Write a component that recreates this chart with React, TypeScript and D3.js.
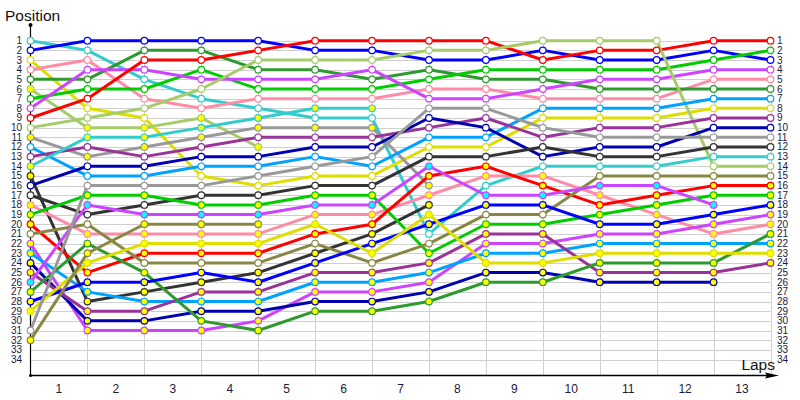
import React from "react";
import { select, scaleLinear, line, range } from "d3";

// lap numbers on the x axis (0 = start grid)
const laps = range(0, 14);
const lapLabels = ["1", "2", "3", "4", "5", "6", "7", "8", "9", "10", "11", "12", "13"];
const positionLabels = range(1, 35);

// colour key per driver (by starting position)
const driverTeams = [
  "cyan", "blue", "yellow", "pink", "dkgreen", "ltgreen", "green", "magenta", "red", "ltgreen",
  "gray", "skyblue", "purple", "cyan", "dkgray", "dkblue", "dkgray", "pink", "green", "red",
  "olive", "magenta", "skyblue", "dkblue", "purple", "magenta", "dkgreen", "blue", "yellow", "gray",
  "olive",
];
// marker fill per driver: w = white, y = yellow, c = cyan
const driverFills = [
  "w", "w", "w", "w", "w", "y", "w", "w", "w", "w",
  "y", "w", "w", "y", "y", "w", "w", "y", "y", "y",
  "w", "y", "y", "y", "y", "c", "y", "y", "y", "w",
  "y",
];

// position after each lap (index 0 = grid), null = out
const N = null;
const positions: (number | null)[][] = [
  [1, 2, 5, 7, 8, 9, 9, 21, 16, 14, 14, 14, 13, 13],
  [2, 1, 1, 1, 1, 2, 2, 3, 3, 2, 3, 3, 2, 3],
  [3, 8, 9, 15, 16, 15, 15, 12, 12, 9, 9, 9, 8, 8],
  [4, 3, 7, 8, 7, 7, 7, 6, 6, 7, 7, 7, 5, 5],
  [5, 5, 2, 2, 4, 4, 5, 4, 5, 5, 6, 6, 6, 6],
  [6, 10, 10, 9, 12, N, N, N, N, N, N, N, N, N],
  [7, 6, 6, 4, 6, 6, 6, 5, 4, 4, 4, 4, 3, 2],
  [8, 4, 4, 5, 5, 5, 4, 7, 7, 6, 5, 5, 4, 4],
  [9, 7, 3, 3, 2, 1, 1, 1, 1, 3, 2, 2, 1, 1],
  [10, 9, 8, 6, 3, 3, 3, 2, 2, 1, 1, 1, 14, 14],
  [11, 13, 12, 11, 10, 10, 10, 16, N, N, N, N, N, N],
  [12, 15, 15, 14, 14, 13, 14, 11, 11, 8, 8, 8, 7, 7],
  [13, 12, 13, 12, 11, 11, 11, 10, 9, 11, 10, 10, 9, 9],
  [14, 11, 11, 10, 9, 8, 8, N, N, N, N, N, N, N],
  [15, 28, 27, 26, 25, 23, 21, 18, N, N, N, N, N, N],
  [16, 14, 14, 13, 13, 12, 12, 9, 10, 13, 12, 12, 10, 10],
  [17, 19, 18, 17, 17, 16, 16, 13, 13, 12, 13, 13, 12, 12],
  [18, 21, 21, 21, 21, 19, 19, 17, 15, 15, 17, 19, 21, 20],
  [19, 17, 17, 18, 18, 17, 17, 23, 20, 20, 19, 18, 17, 17],
  [20, 25, 23, 23, 23, 21, 20, 15, 14, 16, 18, 17, 16, 16],
  [21, 20, 24, 24, 24, 22, 24, 22, 19, 19, 15, 15, 15, 15],
  [22, 31, 31, 31, 30, 27, 27, 26, 22, 22, 21, 21, 20, 19],
  [23, 27, 28, 28, 28, 26, 26, 25, 23, 23, 22, 22, 22, 22],
  [24, 30, 30, 29, 29, 28, 28, 27, 25, 25, 26, 26, 26, N],
  [25, 29, 29, 27, 27, 25, 25, 24, 21, 21, 25, 25, 25, 24],
  [26, 18, 19, 19, 19, 18, 18, 14, 17, 17, 16, 16, 18, N],
  [27, 22, 25, 30, 31, 29, 29, 28, 26, 26, 24, 24, 24, 21],
  [28, 26, 26, 25, 26, 24, 22, 20, 18, 18, 20, 20, 19, 18],
  [29, 24, 22, 22, 22, 20, 23, 19, 24, 24, 23, 23, 23, 23],
  [31, 16, 16, 16, 15, 14, 13, 8, 8, 10, 11, 11, 11, 11],
  [32, 23, 20, 20, 20, N, N, N, N, N, N, N, N, N],
];

const teamColor: Record<string, string> = {
  cyan: "#33cccc",
  blue: "#0000ff",
  yellow: "#dddd00",
  pink: "#ff8ca6",
  dkgreen: "#2e9a2e",
  ltgreen: "#a6cc6a",
  green: "#00cc00",
  magenta: "#cc44ff",
  red: "#ff0000",
  gray: "#999999",
  skyblue: "#00a2ff",
  purple: "#993399",
  dkgray: "#333333",
  dkblue: "#0000b0",
  olive: "#888844",
};
const fillColor: Record<string, string> = { w: "#ffffff", y: "#ffff00", c: "#00ffff" };

const width = 800;
const height = 400;
const font = "'Liberation Sans', Arial, sans-serif";
const labelColor = "#1a1a3a";

export default function App() {
  const svgRef = React.useRef<SVGSVGElement>(null);

  React.useEffect(() => {
    const svg = select(svgRef.current);

    const x = scaleLinear().domain([0, 13]).range([30.5, 770.5]);
    const y = scaleLinear().domain([1, 34]).range([40.7, 359.5]);
    const axisY = 375.5;

    // grid
    const grid = svg.append("g").attr("stroke", "#cfcfcf").attr("stroke-width", 1);
    grid
      .selectAll("line.h")
      .data(positionLabels)
      .join("line")
      .attr("x1", x(0))
      .attr("x2", x(13))
      .attr("y1", (d) => Math.round(y(d)) + 0.5)
      .attr("y2", (d) => Math.round(y(d)) + 0.5);
    grid
      .selectAll("line.v")
      .data(laps.slice(1))
      .join("line")
      .attr("x1", (d) => Math.round(x(d)) + 0.5)
      .attr("x2", (d) => Math.round(x(d)) + 0.5)
      .attr("y1", y(1))
      .attr("y2", axisY);

    // axes
    const ax = svg.append("g");
    ax.append("line")
      .attr("x1", x(0)).attr("x2", 772)
      .attr("y1", axisY).attr("y2", axisY)
      .attr("stroke", "#000").attr("stroke-width", 1.5);
    ax.append("path")
      .attr("d", `M779,${axisY} L765,${axisY - 3} L767,${axisY} L765,${axisY + 3} Z`)
      .attr("fill", "#000");
    ax.append("line")
      .attr("x1", x(0)).attr("x2", x(0))
      .attr("y1", 25).attr("y2", axisY)
      .attr("stroke", "#000").attr("stroke-width", 1.2);
    ax.append("circle").attr("cx", x(0)).attr("cy", 25).attr("r", 2).attr("fill", "#000");
    ax.append("circle").attr("cx", x(0)).attr("cy", axisY).attr("r", 1.5).attr("fill", "#000");

    // tick labels
    svg
      .append("g")
      .selectAll("text")
      .data(positionLabels)
      .join("text")
      .attr("x", 22)
      .attr("y", (d) => y(d) + 3.5)
      .attr("text-anchor", "end")
      .attr("font-family", font)
      .attr("font-size", 10)
      .attr("fill", labelColor)
      .text((d) => d);
    svg
      .append("g")
      .selectAll("text")
      .data(positionLabels)
      .join("text")
      .attr("x", 777)
      .attr("y", (d) => y(d) + 3.5)
      .attr("font-family", font)
      .attr("font-size", 10)
      .attr("fill", labelColor)
      .text((d) => d);
    svg
      .append("g")
      .selectAll("text")
      .data(lapLabels)
      .join("text")
      .attr("x", (_, i) => x(i + 0.5))
      .attr("y", 393)
      .attr("text-anchor", "middle")
      .attr("font-family", font)
      .attr("font-size", 12)
      .attr("fill", labelColor)
      .text((d) => d);

    svg.append("text")
      .attr("x", 5).attr("y", 21)
      .attr("font-family", font).attr("font-size", 15.5)
      .attr("fill", "#111")
      .text("Position");
    svg.append("text")
      .attr("x", 775).attr("y", 370)
      .attr("text-anchor", "end")
      .attr("font-family", font).attr("font-size", 15.5)
      .attr("fill", "#111")
      .text("Laps");

    // lines
    const path = line<number | null>()
      .defined((d) => d !== null)
      .x((_, i) => x(i))
      .y((d) => y(d as number));

    svg
      .append("g")
      .selectAll("path")
      .data(positions)
      .join("path")
      .attr("d", (d) => path(d))
      .attr("fill", "none")
      .attr("stroke", (_, i) => teamColor[driverTeams[i]])
      .attr("stroke-width", 3)
      .attr("stroke-linejoin", "round");

    // markers
    const marks = positions.flatMap((row, i) =>
      row.map((p, lap) => ({ p, lap, i })).filter((d) => d.p !== null)
    );
    svg
      .append("g")
      .selectAll("circle")
      .data(marks)
      .join("circle")
      .attr("cx", (d) => x(d.lap))
      .attr("cy", (d) => y(d.p as number))
      .attr("r", 3.3)
      .attr("fill", (d) => fillColor[driverFills[d.i]])
      .attr("stroke", (d) => teamColor[driverTeams[d.i]])
      .attr("stroke-width", 1.2);

    return () => {
      svg.selectAll("*").remove();
    };
  }, []);

  return (
    <svg
      ref={svgRef}
      width={width}
      height={height}
      style={{ position: "absolute", left: 0, top: 0, background: "#fff" }}
    />
  );
}
